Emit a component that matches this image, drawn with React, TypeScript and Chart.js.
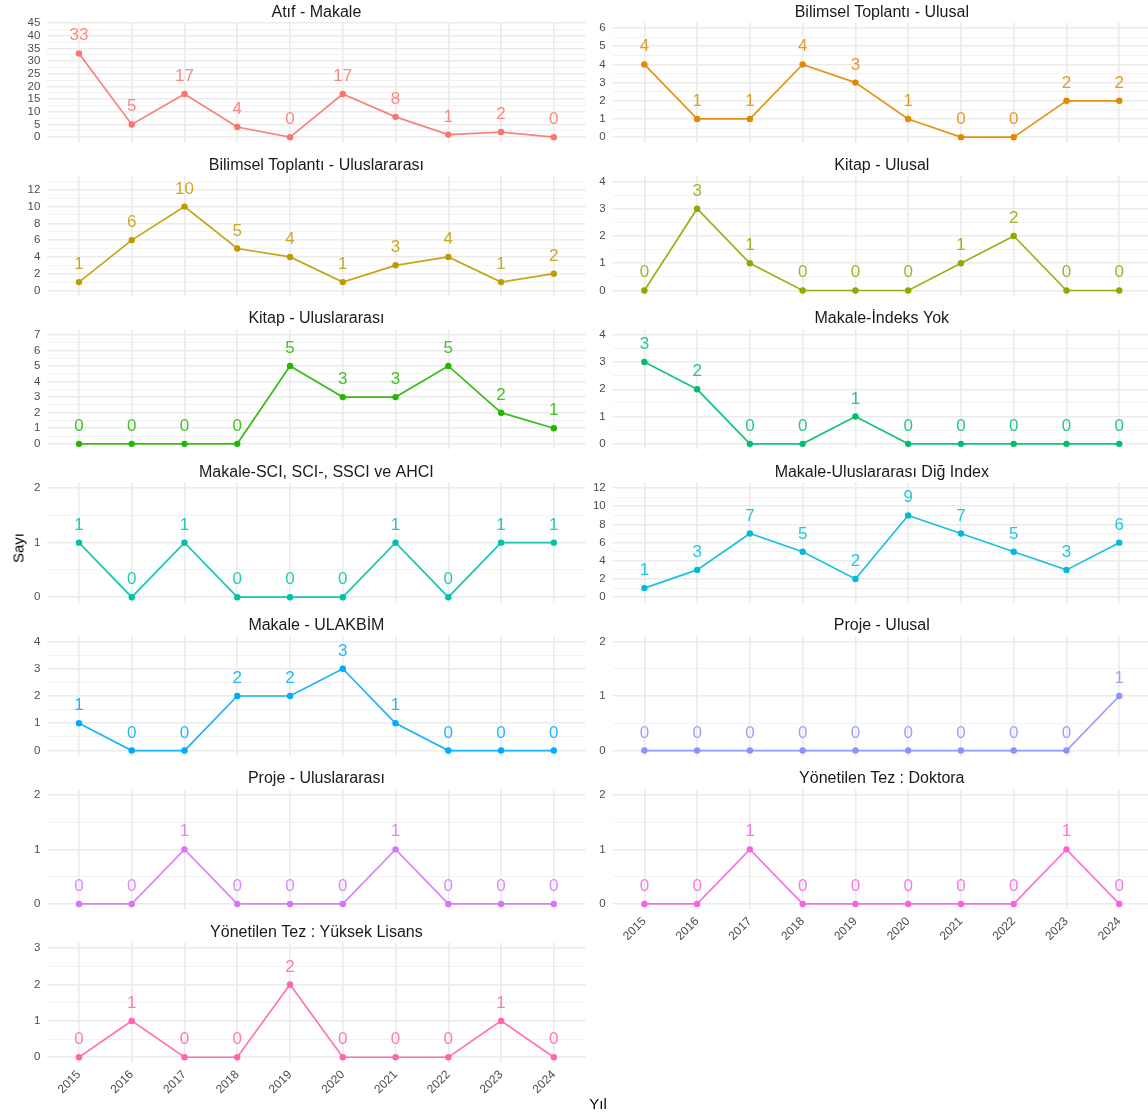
import React, { useEffect, useRef } from 'react';
import { Chart, registerables } from 'chart.js';

Chart.register(...registerables);

// ---------------- data ----------------
const years = [2015, 2016, 2017, 2018, 2019, 2020, 2021, 2022, 2023, 2024];

const panelTitles = [
  'Atıf - Makale',
  'Bilimsel Toplantı - Ulusal',
  'Bilimsel Toplantı - Uluslararası',
  'Kitap - Ulusal',
  'Kitap - Uluslararası',
  'Makale-İndeks Yok',
  'Makale-SCI, SCI-, SSCI ve AHCI',
  'Makale-Uluslararası Diğ Index',
  'Makale - ULAKBİM',
  'Proje - Ulusal',
  'Proje - Uluslararası',
  'Yönetilen Tez : Doktora',
  'Yönetilen Tez : Yüksek Lisans',
];

const atifMakale = [33, 5, 17, 4, 0, 17, 8, 1, 2, 0];
const bilimselUlusal = [4, 1, 1, 4, 3, 1, 0, 0, 2, 2];
const bilimselUluslararasi = [1, 6, 10, 5, 4, 1, 3, 4, 1, 2];
const kitapUlusal = [0, 3, 1, 0, 0, 0, 1, 2, 0, 0];
const kitapUluslararasi = [0, 0, 0, 0, 5, 3, 3, 5, 2, 1];
const makaleIndeksYok = [3, 2, 0, 0, 1, 0, 0, 0, 0, 0];
const makaleSCI = [1, 0, 1, 0, 0, 0, 1, 0, 1, 1];
const makaleDigIndex = [1, 3, 7, 5, 2, 9, 7, 5, 3, 6];
const makaleUlakbim = [1, 0, 0, 2, 2, 3, 1, 0, 0, 0];
const projeUlusal = [0, 0, 0, 0, 0, 0, 0, 0, 0, 1];
const projeUluslararasi = [0, 0, 1, 0, 0, 0, 1, 0, 0, 0];
const tezDoktora = [0, 0, 1, 0, 0, 0, 0, 0, 1, 0];
const tezYuksekLisans = [0, 1, 0, 0, 2, 0, 0, 0, 1, 0];

const panelSeries = [
  atifMakale, bilimselUlusal, bilimselUluslararasi, kitapUlusal, kitapUluslararasi,
  makaleIndeksYok, makaleSCI, makaleDigIndex, makaleUlakbim, projeUlusal,
  projeUluslararasi, tezDoktora, tezYuksekLisans,
];

// major y tick labels per panel
const yTicks = [
  [0, 5, 10, 15, 20, 25, 30, 35, 40, 45],
  [0, 1, 2, 3, 4, 5, 6],
  [0, 2, 4, 6, 8, 10, 12],
  [0, 1, 2, 3, 4],
  [0, 1, 2, 3, 4, 5, 6, 7],
  [0, 1, 2, 3, 4],
  [0, 1, 2],
  [0, 2, 4, 6, 8, 10, 12],
  [0, 1, 2, 3, 4],
  [0, 1, 2],
  [0, 1, 2],
  [0, 1, 2],
  [0, 1, 2, 3],
];

// upper y limit of each panel (before 5% expansion)
const yUpper = [43, 6, 13, 4, 7, 4, 2, 12, 4, 2, 2, 2, 3];

const colors = [
  '#F8766D', '#E18A00', '#BE9C00', '#8CAB00', '#24B700', '#00BE70', '#00C1AB',
  '#00BBDA', '#00ACFC', '#8B93FF', '#D575FE', '#F962DD', '#FF65AC',
];

// ---------------- layout ----------------
const COL_LEFT = [47.3, 612.7];
const PANEL_W = 538.2;
const ROW_TOP0 = 22.6;
const ROW_STEP = 153.35;
const PANEL_H = 120;
const AXIS_W = 50;
const TOP_PAD = 28;
const X_AXIS_H = 55;
const FONT = '"Liberation Sans", Arial, Helvetica, sans-serif';

function rgba(hex: string, a: number) {
  const n = parseInt(hex.slice(1), 16);
  return `rgba(${(n >> 16) & 255},${(n >> 8) & 255},${n & 255},${a})`;
}

function Panel({ index }: { index: number }) {
  const ref = useRef<HTMLCanvasElement | null>(null);
  const row = Math.floor(index / 2);
  const col = index % 2;
  const isBottom = index === 12 || index === 11;
  const panelLeft = COL_LEFT[col];
  const panelTop = ROW_TOP0 + ROW_STEP * row;
  const canvasLeft = Math.floor(panelLeft) - AXIS_W;
  const canvasTop = Math.floor(panelTop) - TOP_PAD;
  const yAxisW = panelLeft - canvasLeft;
  const padTop = panelTop - canvasTop;
  const canvasW = Math.ceil(panelLeft + PANEL_W) - canvasLeft;
  const padRight = canvasW - (yAxisW + PANEL_W);
  const xAxisH = isBottom ? X_AXIS_H : 0;
  const canvasH = Math.ceil(panelTop + PANEL_H) - canvasTop + (isBottom ? X_AXIS_H + 4 : 24);
  const padBottom = canvasH - (padTop + PANEL_H) - xAxisH;

  useEffect(() => {
    const canvas = ref.current;
    if (!canvas) return;
    const data = panelSeries[index];
    const color = colors[index];
    const majors = yTicks[index];
    const majorSet = new Set(majors);
    const M = yUpper[index];
    const yMin = -0.05 * M;
    const yMax = 1.05 * M;
    const step = majors[1] - majors[0];
    const allTicks: number[] = [];
    majors.forEach((t) => {
      allTicks.push(t);
      if (t + step / 2 <= yMax) allTicks.push(t + step / 2);
    });
    if (majors[0] - step / 2 >= yMin) allTicks.push(majors[0] - step / 2);
    allTicks.sort((a, b) => a - b);

    const labelPlugin = {
      id: 'labels' + index,
      afterDatasetsDraw(chart: any) {
        const ctx = chart.ctx;
        const meta = chart.getDatasetMeta(0);
        ctx.save();
        ctx.font = `17px ${FONT}`;
        ctx.fillStyle = rgba(color, 0.85);
        ctx.textAlign = 'center';
        ctx.textBaseline = 'alphabetic';
        meta.data.forEach((pt: any, i: number) => {
          ctx.fillText(String(data[i]), pt.x, pt.y - 13);
        });
        // strip title
        const area = chart.chartArea;
        ctx.font = `16px ${FONT}`;
        ctx.fillStyle = '#1A1A1A';
        ctx.fillText(panelTitles[index], (area.left + area.right) / 2, area.top - 6);
        ctx.restore();
      },
    };

    const chart = new Chart(canvas, {
      type: 'line',
      data: {
        datasets: [
          {
            data: years.map((y, i) => ({ x: y, y: data[i] })),
            borderColor: rgba(color, 0.9),
            backgroundColor: color,
            pointBackgroundColor: color,
            pointBorderColor: color,
            pointRadius: 3.2,
            pointBorderWidth: 0,
            borderWidth: 1.7,
            tension: 0,
            fill: false,
          },
        ],
      },
      options: {
        animation: false,
        responsive: false,
        devicePixelRatio: 1,
        layout: { autoPadding: false, padding: { left: 0, right: padRight, top: padTop, bottom: padBottom } },
        plugins: { legend: { display: false }, tooltip: { enabled: false }, title: { display: false } },
        scales: {
          x: {
            type: 'linear',
            min: 2014.4,
            max: 2024.6,
            border: { display: false },
            grid: { color: '#EBEBEB', lineWidth: 1.6, drawTicks: false },
            afterBuildTicks: (axis: any) => {
              axis.ticks = years.map((v) => ({ value: v }));
            },
            afterFit: (axis: any) => {
              axis.height = xAxisH;
              axis.paddingLeft = 0;
              axis.paddingRight = 0;
            },
            ticks: {
              display: isBottom,
              autoSkip: false,
              minRotation: 45,
              maxRotation: 45,
              padding: 5,
              color: '#4D4D4D',
              font: { family: FONT, size: 12 },
              callback: (v: any) => String(v),
            },
          },
          y: {
            type: 'linear',
            min: yMin,
            max: yMax,
            border: { display: false },
            grid: {
              drawTicks: false,
              color: (c: any) => (c.tick && majorSet.has(c.tick.value) ? '#EBEBEB' : '#F0F0F0'),
              lineWidth: (c: any) => (c.tick && majorSet.has(c.tick.value) ? 1.6 : 0.9),
            },
            afterBuildTicks: (axis: any) => {
              axis.ticks = allTicks.map((v) => ({ value: v }));
            },
            afterFit: (axis: any) => {
              axis.width = yAxisW;
              axis.paddingTop = 0;
              axis.paddingBottom = 0;
            },
            ticks: {
              autoSkip: false,
              padding: 7,
              color: '#4D4D4D',
              font: { family: FONT, size: 11.5 },
              callback: (v: any) => (majorSet.has(v) ? String(v) : ''),
            },
          },
        },
      },
      plugins: [labelPlugin],
    } as any);
    return () => chart.destroy();
  }, [index]);

  return (
    <canvas
      ref={ref}
      width={canvasW}
      height={canvasH}
      style={{ position: 'absolute', left: canvasLeft, top: canvasTop, width: canvasW, height: canvasH }}
    />
  );
}

export default function App() {
  return (
    <div
      style={{
        position: 'fixed',
        left: 0,
        top: 0,
        width: 1148,
        height: 1115,
        overflow: 'hidden',
        background: '#FFFFFF',
        fontFamily: FONT,
      }}
    >
      {panelTitles.map((_, i) => (
        <Panel key={i} index={i} />
      ))}
      <div
        style={{
          position: 'absolute',
          left: 18,
          top: 548,
          transform: 'translate(-50%, -50%) rotate(-90deg)',
          fontSize: 15,
          color: '#000',
          whiteSpace: 'nowrap',
        }}
      >
        Sayı
      </div>
      <div
        style={{
          position: 'absolute',
          left: 598,
          top: 1103,
          transform: 'translate(-50%, -50%)',
          fontSize: 15,
          color: '#000',
          whiteSpace: 'nowrap',
        }}
      >
        Yıl
      </div>
    </div>
  );
}
